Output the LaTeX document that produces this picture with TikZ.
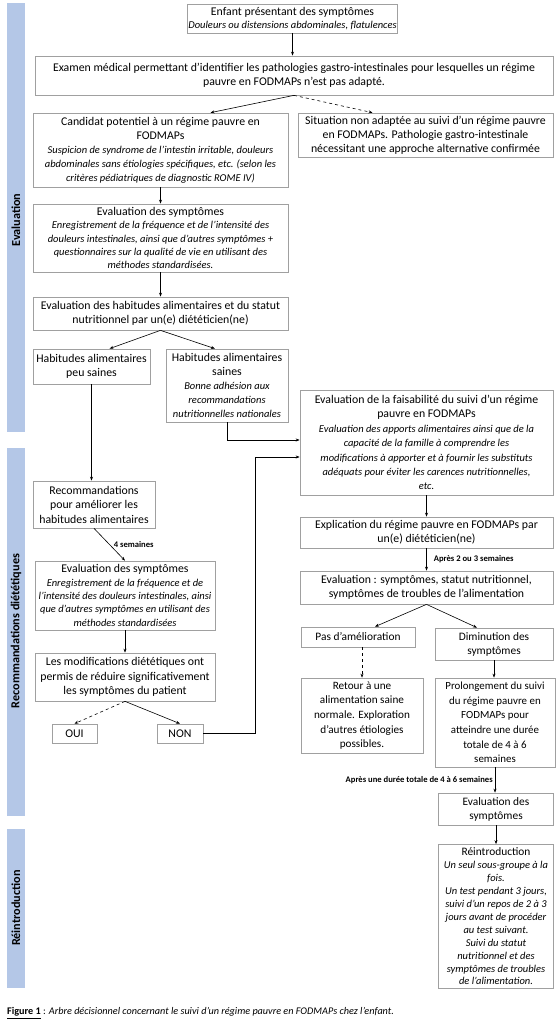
\documentclass[tikz,border=0pt]{standalone}
\usepackage{fontspec}
\setmainfont{Carlito}
\usetikzlibrary{arrows.meta,calc}
\definecolor{barc}{RGB}{180,199,231}
\definecolor{bord}{RGB}{160,160,160}
\newcommand{\itx}{\fontsize{10.5}{12}\selectfont\itshape}
\newcommand{\bsk}[2]{\fontsize{#1}{#2}\selectfont}
\begin{document}
\begin{tikzpicture}[x=1pt,y=-1pt,
 box/.style={draw=bord,line width=0.7pt,align=center,inner sep=1pt,font=\bsk{11.8}{14}},
 arr/.style={-{Stealth[length=4pt,width=3pt]},line width=0.6pt},
 darr/.style={arr,dashed},
 lab/.style={font=\bsk{8.6}{9}\bfseries,inner sep=1pt},
 barlab/.style={rotate=90,font=\bsk{12.2}{14}\bfseries}]
\useasboundingbox (0,0) rectangle (559,1024);
% side bars
\fill[barc] (7,3) rectangle (25,432);
\fill[barc] (7,448) rectangle (25,816);
\fill[barc] (7,829) rectangle (25,988);
\node[barlab] (b1) at (16,220) {Evaluation};
\node[barlab] (b2) at (16,631) {Recommandations diététiques};
\node[barlab] (b3) at (16,908) {Réintroduction};
% boxes
\node[box,minimum width=195,minimum height=29,font=\bsk{11.8}{13}] (enfant) at (292.5,18.5) {Enfant présentant des symptômes\\ \itx Douleurs ou distensions abdominales, flatulences};
\node[box,minimum width=518,minimum height=39] (examen) at (294,75.5) {Examen médical permettant d’identifier les pathologies gastro-intestinales pour lesquelles un régime\\pauvre en FODMAPs n’est pas adapté.};
\node[box,minimum width=255,minimum height=74,font=\bsk{11.8}{14}] (candidat) at (160.5,150) {Candidat potentiel à un régime pauvre en\\FODMAPs\\ \itx Suspicion de syndrome de l’intestin irritable, douleurs\\ \itx abdominales sans étiologies spécifiques, etc. (selon les\\ \itx critères pédiatriques de diagnostic ROME IV)};
\node[box,minimum width=255,minimum height=44] (situation) at (425.5,135) {Situation non adaptée au suivi d’un régime pauvre\\en FODMAPs. Pathologie gastro-intestinale\\nécessitant une approche alternative confirmée};
\node[box,minimum width=255,minimum height=68,font=\bsk{11.8}{13.4}] (evalsym) at (160.5,238) {Evaluation des symptômes\\ \itx Enregistrement de la fréquence et de l’intensité des\\ \itx douleurs intestinales, ainsi que d’autres symptômes +\\ \itx questionnaires sur la qualité de vie en utilisant des\\ \itx méthodes standardisées.};
\node[box,minimum width=255,minimum height=33] (evalhab) at (160.5,313.5) {Evaluation des habitudes alimentaires et du statut\\nutritionnel par un(e) diététicien(ne)};
\node[box,minimum width=117,minimum height=35] (peu) at (91.5,366.5) {Habitudes alimentaires\\peu saines};
\node[box,minimum width=122,minimum height=73] (saines) at (227,385.5) {Habitudes alimentaires\\saines\\ \itx Bonne adhésion aux\\ \itx recommandations\\ \itx nutritionnelles nationales};
\node[box,minimum width=253,minimum height=105,font=\bsk{11.8}{14.4}] (faisab) at (426.5,442.5) {Evaluation de la faisabilité du suivi d’un régime\\pauvre en FODMAPs\\ \itx Evaluation des apports alimentaires ainsi que de la\\ \itx capacité de la famille à comprendre les\\ \itx modifications à apporter et à fournir les substituts\\ \itx adéquats pour éviter les carences nutritionnelles,\\ \itx etc.};
\node[box,minimum width=122,minimum height=47,font=\bsk{11.8}{14.5}] (recom) at (94,504.5) {Recommandations\\pour améliorer les\\habitudes alimentaires};
\node[box,minimum width=180,minimum height=69,font=\bsk{11.8}{13.4}] (evalsym2) at (125,595.5) {Evaluation des symptômes\\ \itx Enregistrement de la fréquence et de\\ \itx l’intensité des douleurs intestinales, ainsi\\ \itx que d’autres symptômes en utilisant des\\ \itx méthodes standardisées};
\node[box,minimum width=180,minimum height=48,font=\bsk{11.8}{14.5}] (modif) at (125,677) {Les modifications diététiques ont\\permis de réduire significativement\\les symptômes du patient};
\node[box,minimum width=45,minimum height=19] (oui) at (74.5,733.5) {OUI};
\node[box,minimum width=46,minimum height=19] (non) at (180,733.5) {NON};
\node[box,minimum width=253,minimum height=31] (explic) at (426.5,532.5) {Explication du régime pauvre en FODMAPs par\\un(e) diététicien(ne)};
\node[box,minimum width=253,minimum height=33] (evalx) at (426.5,587.5) {Evaluation : symptômes, statut nutritionnel,\\symptômes de troubles de l’alimentation};
\node[box,minimum width=114,minimum height=20,font=\bsk{11.4}{14}] (pas) at (358,637) {Pas d’amélioration};
\node[box,minimum width=118,minimum height=32,font=\bsk{11.4}{14}] (dimin) at (494,644) {Diminution des\\symptômes};
\node[box,minimum width=122,minimum height=75,font=\bsk{11.2}{14.6}] (retour) at (362,715.5) {Retour à une\\alimentation saine\\normale. Exploration\\d’autres étiologies\\possibles.};
\node[box,minimum width=120,minimum height=89,font=\bsk{10.9}{14.6}] (prolong) at (495,722.5) {Prolongement du suivi\\du régime pauvre en\\FODMAPs pour\\atteindre une durée\\totale de 4 à 6\\semaines};
\node[box,minimum width=115,minimum height=32,font=\bsk{11.4}{14}] (eval3) at (496,809) {Evaluation des\\symptômes};
\node[box,minimum width=115,minimum height=144,font=\bsk{11.4}{12.9}] (reintro) at (496,916.5) {Réintroduction\\ \itx Un seul sous-groupe à la\\ \itx fois.\\ \itx Un test pendant 3 jours,\\ \itx suivi d’un repos de 2 à 3\\ \itx jours avant de procéder\\ \itx au test suivant.\\ \itx Suivi du statut\\ \itx nutritionnel et des\\ \itx symptômes de troubles\\ \itx de l’alimentation.};
% caption
\node[anchor=west,inner sep=0pt,font=\bsk{10.2}{12}] (cap) at (7,1013) {\underline{\textbf{Figure 1}} : \textit{Arbre décisionnel concernant le suivi d’un régime pauvre en FODMAPs chez l’enfant.}};
% connectors
\draw[arr] (enfant.south) -- (enfant.south |- examen.north);
\draw[arr] (examen.south) -- ([xshift=50pt]candidat.north);
\draw[darr] (examen.south) -- ([xshift=-53pt]situation.north);
\draw[arr] (candidat.south) -- (evalsym.north);
\draw[arr] (evalsym.south) -- (evalhab.north);
\draw[arr] (evalhab.south) -- ([xshift=18pt]peu.north);
\draw[arr] (evalhab.south) -- ([xshift=-12pt]saines.north);
\draw[arr] (peu.south) -- (peu.south |- recom.north);
\draw[arr] (saines.south) |- ([yshift=2.5pt]faisab.west);
\draw[arr] (non.east) -- ++(52,0) |- ([yshift=-14.5pt]faisab.west);
\draw[arr] (recom.south) -- node[lab,right,pos=0.5,xshift=3pt] {4 semaines} (evalsym2.north);
\draw[arr] (evalsym2.south) -- (modif.north);
\draw[darr] (modif.south) -- (oui.north);
\draw[arr] (modif.south) -- (non.north);
\draw[arr] (faisab.south) -- (explic.north);
\draw[arr] (explic.south) -- node[lab,right,xshift=6pt] {Après 2 ou 3 semaines} (evalx.north);
\draw[arr] (evalx.south) -- ([xshift=17pt]pas.north);
\draw[arr] (evalx.south) -- ([xshift=-17pt]dimin.north);
\draw[darr] (pas.south -| retour.north) -- (retour.north);
\draw[arr] (dimin.south) -- (dimin.south |- prolong.north);
\draw[arr] (prolong.south) -- node[lab,left,xshift=-1pt] {Après une durée totale de 4 à 6 semaines} (prolong.south |- eval3.north);
\draw[arr] (eval3.south) -- (reintro.north);
\end{tikzpicture}
\end{document}
